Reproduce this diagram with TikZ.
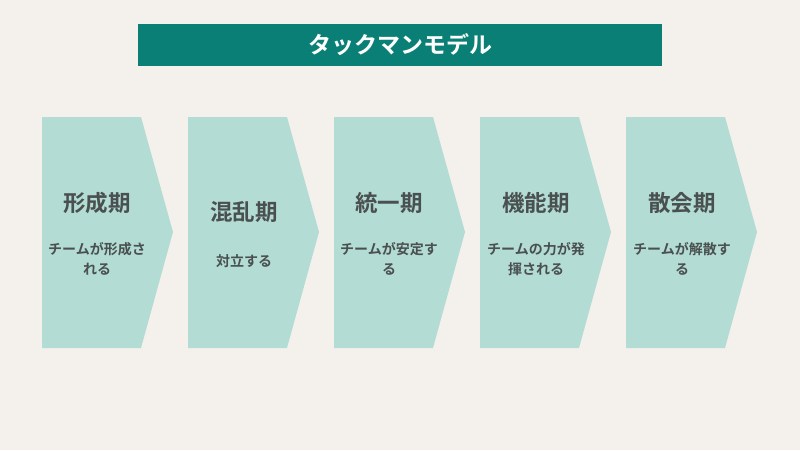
\documentclass[tikz,border=0pt]{standalone}
\usepackage{fontspec}
\newfontfamily\jp{Noto Sans CJK JP}[BoldFont={* Bold}]
\definecolor{bgc}{RGB}{244,241,236}
\definecolor{teal}{RGB}{10,127,117}
\definecolor{chev}{RGB}{178,220,212}
\definecolor{txt}{RGB}{74,80,79}
\tikzset{
  chevshape/.style={fill=chev, draw=none},
  phasetitle/.style={font=\jp\bfseries\fontsize{22.5}{26}\selectfont, text=txt, inner sep=0pt},
  phasedesc/.style={font=\jp\bfseries\fontsize{14}{20}\selectfont, text=txt, align=center, inner sep=0pt},
  titlebar/.style={fill=teal, minimum width=524pt, minimum height=42pt, inner sep=0pt, text=white, font=\jp\bfseries\fontsize{23}{26}\selectfont}
}
\begin{document}
\begin{tikzpicture}[x=1pt,y=-1pt]
\fill[bgc] (0,0) rectangle (800,450);
\useasboundingbox (0,0) rectangle (800,450);
\node[titlebar] (title) at (400,45) {タックマンモデル};
\foreach \i in {0,...,4}{
  \pgfmathsetmacro{\L}{42+146*\i}
  \fill[chevshape] (\L,117) -- ++(99,0) -- ++(32,115) -- ++(-32,116) -- (\L,348) -- cycle;
}
\node[phasetitle] (t1) at (97,203) {形成期};
\node[phasedesc] (d1) at (97,259) {チームが形成さ\\れる};
\node[phasetitle] (t2) at (244,212) {混乱期};
\node[phasedesc] (d2) at (244,261) {対立する};
\node[phasetitle] (t3) at (389,203) {統一期};
\node[phasedesc] (d3) at (389,259) {チームが安定す\\る};
\node[phasetitle] (t4) at (536,203) {機能期};
\node[phasedesc] (d4) at (536,259) {チームの力が発\\揮される};
\node[phasetitle] (t5) at (682,203) {散会期};
\node[phasedesc] (d5) at (682,259) {チームが解散す\\る};
\end{tikzpicture}
\end{document}
